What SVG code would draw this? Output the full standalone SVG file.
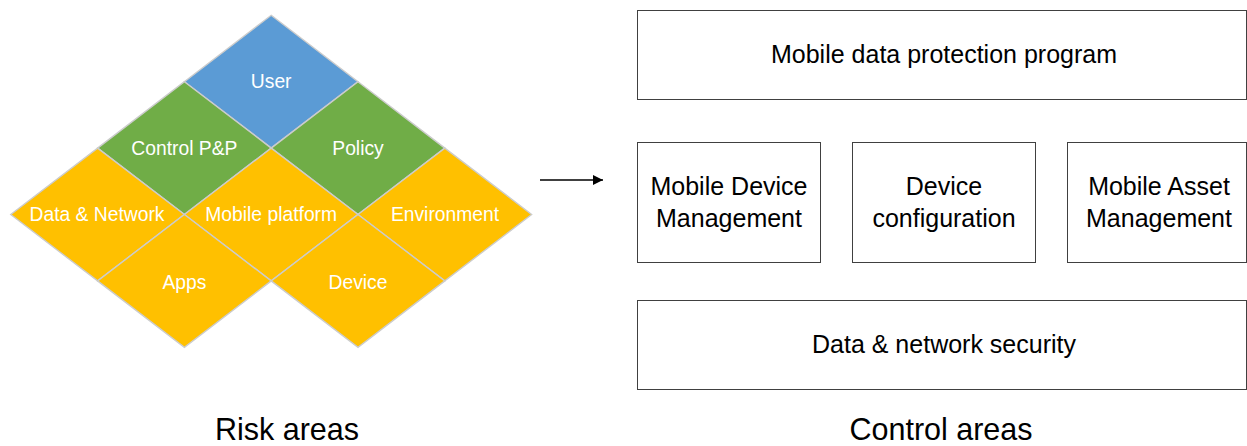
<svg xmlns="http://www.w3.org/2000/svg" width="1247" height="446" viewBox="0 0 1247 446">
  <style>
    .tile { stroke: #cccccc; stroke-width: 1.4; stroke-linejoin: miter; }
    .blue { fill: #5b9bd5; }
    .green { fill: #70ad47; }
    .gold { fill: #ffc000; }
    .tlabel { font-family: "Liberation Sans", Arial, sans-serif; font-size: 19.3px; fill: #ffffff; text-anchor: middle; }
    .box { fill: #ffffff; stroke: #404040; stroke-width: 1; }
    .blabel { font-family: "Liberation Sans", Arial, sans-serif; font-size: 25px; fill: #000000; text-anchor: middle; }
    .caption { font-family: "Liberation Sans", Arial, sans-serif; font-size: 30.5px; fill: #000000; text-anchor: middle; }
  </style>
  <defs>
    <marker id="arrowhead" markerUnits="userSpaceOnUse" markerWidth="10" markerHeight="10" refX="10" refY="5" orient="auto">
      <path d="M0,0 L10,5 L0,10 Z" fill="#000000"/>
    </marker>
  </defs>

  <rect width="1247" height="446" fill="#ffffff"/>

  <!-- risk area tiles -->
  <g id="user">
    <polygon class="tile blue" points="271.2,15.3 358,81.7 271.2,148.1 184.4,81.7"/>
    <text class="tlabel" x="271.2" y="88">User</text>
  </g>
  <g id="control-pp">
    <polygon class="tile green" points="184.4,81.7 271.2,148.1 184.4,214.5 97.6,148.1"/>
    <text class="tlabel" x="184.4" y="154.5">Control P&amp;P</text>
  </g>
  <g id="policy">
    <polygon class="tile green" points="358,81.7 444.8,148.1 358,214.5 271.2,148.1"/>
    <text class="tlabel" x="358" y="154.5">Policy</text>
  </g>
  <g id="data-network">
    <polygon class="tile gold" points="97.6,148.1 184.4,214.5 97.6,280.9 10.8,214.5"/>
    <text class="tlabel" x="97" y="221">Data &amp; Network</text>
  </g>
  <g id="mobile-platform">
    <polygon class="tile gold" points="271.2,148.1 358,214.5 271.2,280.9 184.4,214.5"/>
    <text class="tlabel" x="271.2" y="221">Mobile platform</text>
  </g>
  <g id="environment">
    <polygon class="tile gold" points="444.8,148.1 531.6,214.5 444.8,280.9 358,214.5"/>
    <text class="tlabel" x="445" y="221">Environment</text>
  </g>
  <g id="apps">
    <polygon class="tile gold" points="184.4,214.5 271.2,280.9 184.4,347.3 97.6,280.9"/>
    <text class="tlabel" x="184.4" y="289">Apps</text>
  </g>
  <g id="device">
    <polygon class="tile gold" points="358,214.5 444.8,280.9 358,347.3 271.2,280.9"/>
    <text class="tlabel" x="358" y="289">Device</text>
  </g>

  <!-- connectors -->
  <g id="connectors">
    <line x1="540" y1="180" x2="603" y2="180" stroke="#000000" stroke-width="1.3" marker-end="url(#arrowhead)"/>
  </g>

  <!-- control area boxes -->
  <g id="mobile-data-protection">
    <rect class="box" x="637.5" y="10.5" width="609" height="89"/>
    <text class="blabel" x="944" y="63">Mobile data protection program</text>
  </g>
  <g id="mdm">
    <rect class="box" x="637.5" y="142.5" width="183" height="120"/>
    <text class="blabel" x="729" y="195">Mobile Device</text>
    <text class="blabel" x="729" y="227">Management</text>
  </g>
  <g id="device-configuration">
    <rect class="box" x="852.5" y="142.5" width="183" height="120"/>
    <text class="blabel" x="944" y="195">Device</text>
    <text class="blabel" x="944" y="227">configuration</text>
  </g>
  <g id="mam">
    <rect class="box" x="1067.5" y="142.5" width="179" height="120"/>
    <text class="blabel" x="1159" y="195">Mobile Asset</text>
    <text class="blabel" x="1159" y="227">Management</text>
  </g>
  <g id="data-network-security">
    <rect class="box" x="637.5" y="300.5" width="609" height="89"/>
    <text class="blabel" x="944" y="353">Data &amp; network security</text>
  </g>

  <!-- captions -->
  <text class="caption" x="287" y="440">Risk areas</text>
  <text class="caption" x="941" y="440">Control areas</text>
</svg>
